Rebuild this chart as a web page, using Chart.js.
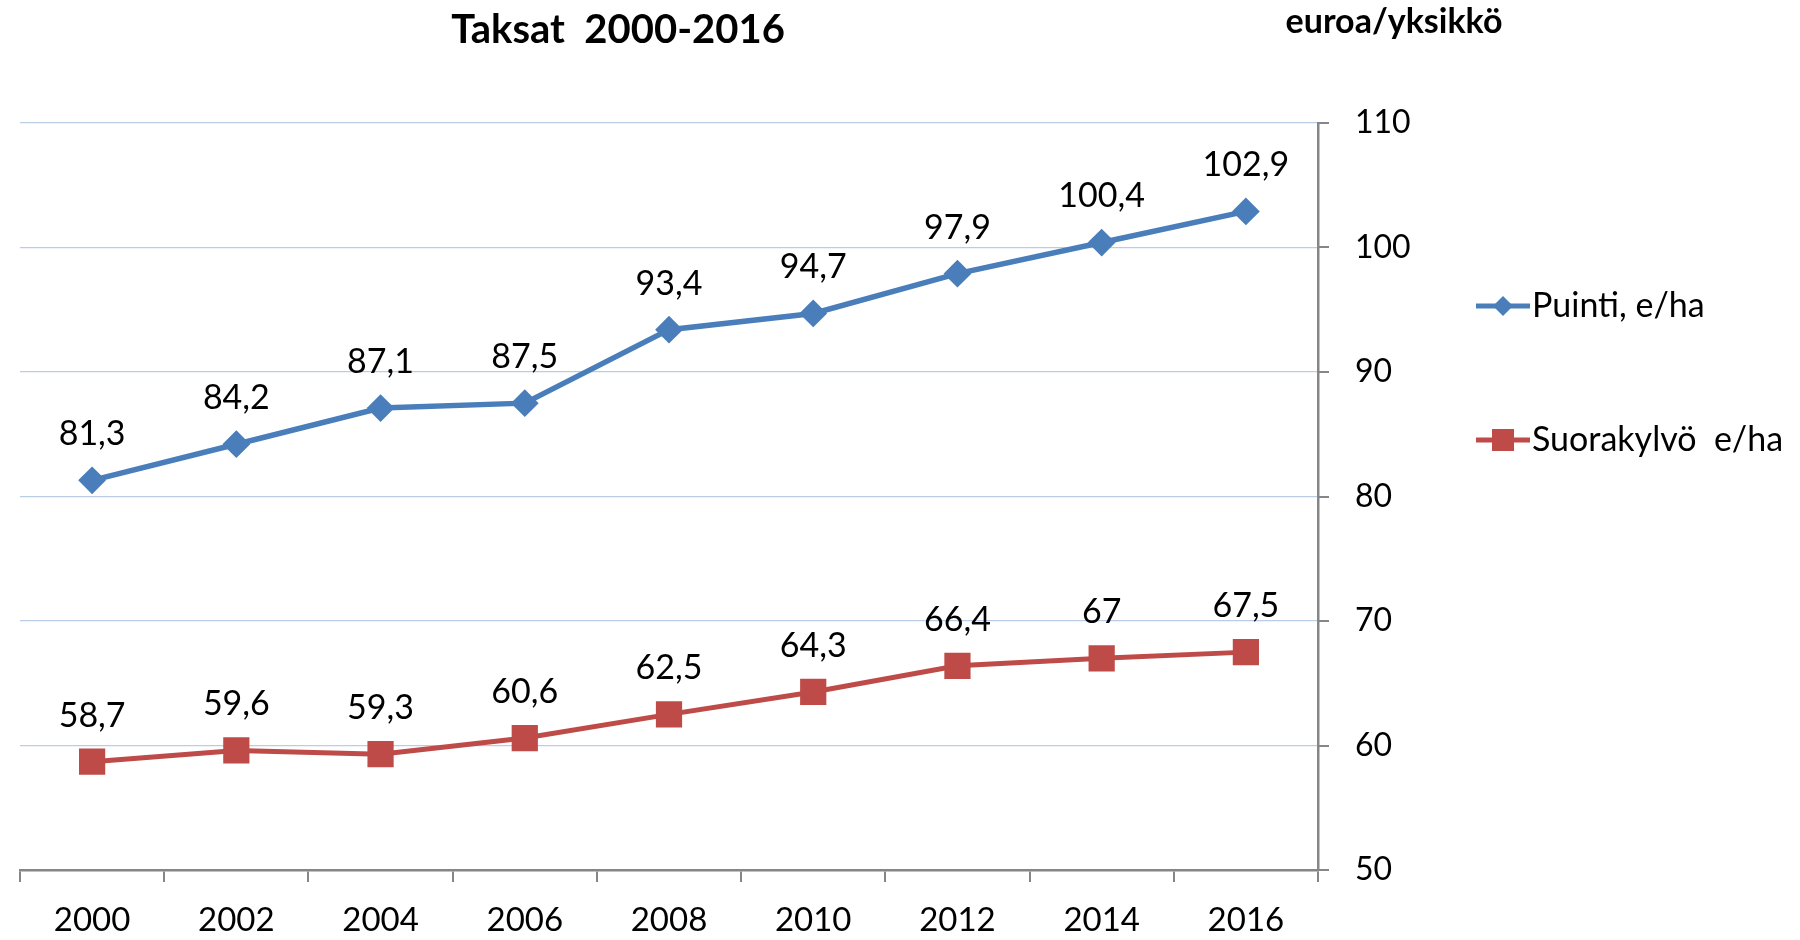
<!DOCTYPE html>
<html>
<head>
<meta charset="utf-8">
<script src="https://cdn.jsdelivr.net/npm/chart.js@4/dist/chart.umd.min.js"></script>
<style>
html,body{margin:0;padding:0;background:#fff;}
#wrap{width:1800px;height:940px;position:relative;}
</style>
</head>
<body>
<div id="wrap"><canvas id="c" width="1800" height="940"></canvas></div>
<script>
const years = ['2000','2002','2004','2006','2008','2010','2012','2014','2016'];
const puinti = [81.3, 84.2, 87.1, 87.5, 93.4, 94.7, 97.9, 100.4, 102.9];
const suorakylvo = [58.7, 59.6, 59.3, 60.6, 62.5, 64.3, 66.4, 67, 67.5];
const seriesNames = ['Puinti, e/ha', 'Suorakylvö  e/ha'];
const titleText = 'Taksat  2000-2016';
const unitText = 'euroa/yksikkö';
const yMin = 50, yMax = 110, yStep = 10;

const FONT = 'Lato, "Open Sans", sans-serif';
const BLUE = '#4a7ebb';
const RED = '#be4b48';
const AXIS = '#868686';
const GRID = '#b9cde5';

const fmt = v => String(v).replace('.', ',');

const extras = {
  id: 'extras',
  afterDatasetsDraw(chart) {
    const ctx = chart.ctx;
    ctx.save();
    // data labels
    ctx.font = '34px ' + FONT;
    ctx.fillStyle = '#000';
    ctx.textAlign = 'center';
    ctx.textBaseline = 'middle';
    chart.data.datasets.forEach((ds, i) => {
      const meta = chart.getDatasetMeta(i);
      meta.data.forEach((pt, j) => {
        ctx.fillText(fmt(ds.data[j]), pt.x, pt.y - 46);
      });
    });
    // title
    ctx.font = 'bold 40px ' + FONT;
    ctx.fillText(titleText, 618, 30);
    ctx.font = 'bold 34px ' + FONT;
    ctx.fillText(unitText, 1394, 22);
    // legend
    const items = [
      {name: seriesNames[0], color: BLUE, y: 306, shape: 'diamond'},
      {name: seriesNames[1], color: RED, y: 440, shape: 'square'}
    ];
    items.forEach(it => {
      ctx.strokeStyle = it.color;
      ctx.lineWidth = 5;
      ctx.beginPath();
      ctx.moveTo(1476, it.y);
      ctx.lineTo(1530, it.y);
      ctx.stroke();
      ctx.fillStyle = it.color;
      ctx.beginPath();
      if (it.shape === 'diamond') {
        ctx.moveTo(1503, it.y - 10); ctx.lineTo(1513, it.y); ctx.lineTo(1503, it.y + 10); ctx.lineTo(1493, it.y);
        ctx.closePath();
      } else {
        ctx.rect(1492, it.y - 11, 22, 22);
      }
      ctx.fill();
      ctx.fillStyle = '#000';
      ctx.textAlign = 'left';
      ctx.font = '34px ' + FONT;
      ctx.fillText(it.name, 1532, it.y);
    });
    ctx.restore();
  }
};

new Chart(document.getElementById('c'), {
  type: 'line',
  data: {
    labels: years,
    datasets: [
      {label: seriesNames[0], data: puinti, borderColor: BLUE, backgroundColor: BLUE, borderWidth: 5.5,
       pointStyle: 'rectRot', pointRadius: 10, pointHoverRadius: 10, tension: 0},
      {label: seriesNames[1], data: suorakylvo, borderColor: RED, backgroundColor: RED, borderWidth: 5,
       pointStyle: 'rect', pointRadius: 15, pointHoverRadius: 15, tension: 0}
    ]
  },
  options: {
    responsive: false,
    animation: false,
    devicePixelRatio: 1,
    layout: {padding: {left: 16, top: 123, right: 0, bottom: 0}},
    plugins: {legend: {display: false}, title: {display: false}, tooltip: {enabled: false}},
    scales: {
      x: {
        offset: true,
        grid: {offset: true, drawOnChartArea: false, drawTicks: true, tickLength: 12, color: AXIS, lineWidth: 2},
        border: {display: true, color: AXIS, width: 2.5},
        ticks: {color: '#000', font: {family: FONT, size: 33}, padding: 19, maxRotation: 0},
        afterFit(s) { s.height = 70; }
      },
      y: {
        position: 'right',
        min: yMin, max: yMax,
        grid: {color: (c) => c.tick && c.tick.value === yMin ? 'rgba(0,0,0,0)' : GRID, lineWidth: 1.2, drawTicks: false},
        border: {display: true, color: AXIS, width: 2.5},
        ticks: {stepSize: yStep, color: '#000', font: {family: FONT, size: 32}, padding: 37},
        afterFit(s) { s.width = 482; }
      }
    }
  },
  plugins: [extras, {
    id: 'ytickmarks',
    afterDraw(chart) {
      const ctx = chart.ctx, y = chart.scales.y, a = chart.chartArea;
      ctx.save();
      ctx.strokeStyle = AXIS; ctx.lineWidth = 2;
      y.ticks.forEach(t => {
        const py = Math.round(y.getPixelForValue(t.value));
        ctx.beginPath(); ctx.moveTo(a.right, py); ctx.lineTo(a.right + 11, py); ctx.stroke();
      });
      ctx.restore();
    }
  }]
});
</script>
</body>
</html>
